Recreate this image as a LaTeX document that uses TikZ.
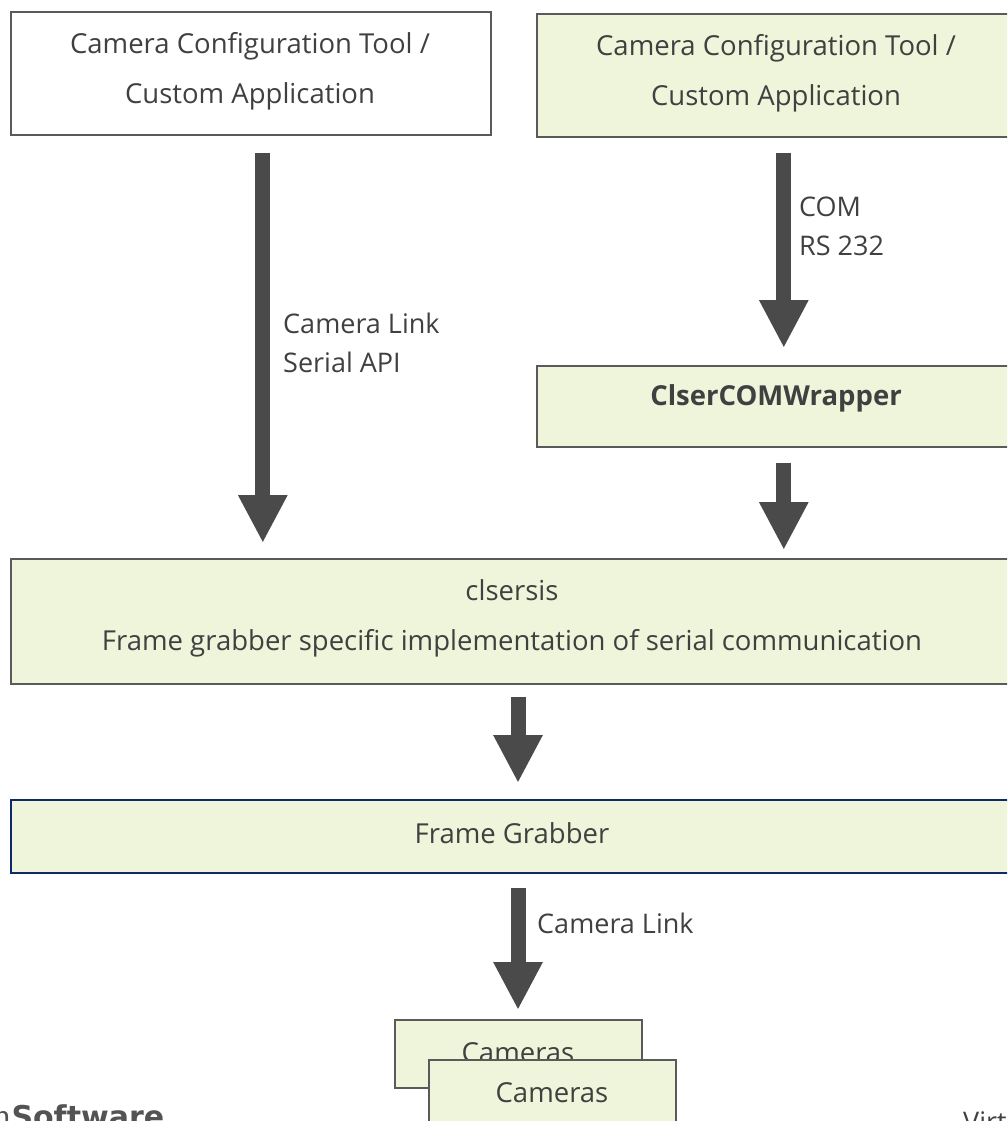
\documentclass[tikz,border=0pt]{standalone}
\usepackage{fontspec}
\setmainfont{Open Sans}
\newfontfamily\slabfont{DejaVu Serif}
\newfontfamily\heavyfont{DejaVu Sans}
\usetikzlibrary{arrows.meta,calc}
\definecolor{txt}{HTML}{404040}
\definecolor{arr}{HTML}{4A4A4A}
\definecolor{bord}{HTML}{5A5A5A}
\definecolor{lgreen}{HTML}{EEF5DA}
\definecolor{navy}{HTML}{0E2A6A}
\begin{document}
\begin{tikzpicture}[x=1pt,y=-1pt,
  box/.style={draw=bord,line width=1.6pt,inner sep=0pt,anchor=north west},
  gbox/.style={box,fill=lgreen},
  t2/.style={text=txt,font=\fontsize{27.5}{50}\selectfont,align=center},
  t1/.style={text=txt,font=\fontsize{27.5}{30}\selectfont},
  bigarrow/.style={draw=arr,line width=15pt,
    -{Triangle[length=48pt 0,width=46pt 0]}},
  lbl/.style={text=txt,font=\fontsize{27}{39}\selectfont,align=left,anchor=north west,inner sep=0pt}]
\useasboundingbox (0,0) rectangle (1007,1121);
\clip (0,0) rectangle (1007,1121);
% top boxes
\node[box,minimum width=480pt,minimum height=123pt] (A) at (10,11) {};
\node[t2] (At) at (250,71) {Camera Configuration Tool /\\Custom Application};
\node[gbox,minimum width=480pt,minimum height=123pt] (B) at (536,13) {};
\node[t2] (Bt) at (776,73) {Camera Configuration Tool /\\Custom Application};
% wrapper
\node[gbox,minimum width=480pt,minimum height=81pt] (C) at (536,365) {};
\node[t1,font=\fontsize{27.5}{30}\selectfont\bfseries] (Ct) at (776,398) {ClserCOMWrapper};
% clsersis
\node[gbox,minimum width=1005pt,minimum height=125pt] (D) at (10,558) {};
\node[t2] (Dt) at (512,618) {clsersis\\Frame grabber specific implementation of serial communication};
% frame grabber
\node[gbox,draw=navy,minimum width=1005pt,minimum height=73pt] (E) at (10,799) {};
\node[t1] (Et) at (512,833) {Frame Grabber};
% cameras
\node[gbox,minimum width=247pt,minimum height=68pt] (F1) at (394,1019) {};
\node[t1] (F1t) at (518,1053) {Cameras};
\node[gbox,minimum width=247pt,minimum height=80pt] (F2) at (428,1059) {};
\node[t1] (F2t) at (552,1093) {Cameras};
% arrows
\draw[bigarrow,shorten <=17pt,shorten >=15pt] ([xshift=12pt]A.south) -- ([xshift=12pt]A.south |- D.north);
\draw[bigarrow,shorten <=15pt,shorten >=17pt] ([xshift=7pt]B.south) -- ([xshift=7pt]B.south |- C.north);
\draw[bigarrow,shorten <=15pt,shorten >=8pt] ([xshift=7pt]C.south) -- ([xshift=7pt]C.south |- D.north);
\draw[bigarrow,shorten <=12pt,shorten >=16pt] (D.south -| 518,0) -- (E.north -| 518,0);
\draw[bigarrow,shorten <=14pt,shorten >=9pt] (E.south -| 518,0) -- (F1.north -| 518,0);
% labels
\node[lbl] (L1) at (283,313) {Camera Link\\Serial API};
\node[lbl] (L2) at (799,197) {COM\\RS 232};
\node[lbl] (L3) at (537,913) {Camera Link};
% footer fragments
\node[anchor=base west,inner sep=0pt,text=txt!90,font=\fontsize{30}{30}\selectfont] (foot1) at (-8,1127) {{\slabfont n}{\heavyfont\bfseries Software}};
\node[anchor=base west,inner sep=0pt,text=txt,font=\fontsize{27}{30}\selectfont] (foot2) at (963,1131) {Virt};
\end{tikzpicture}
\end{document}
